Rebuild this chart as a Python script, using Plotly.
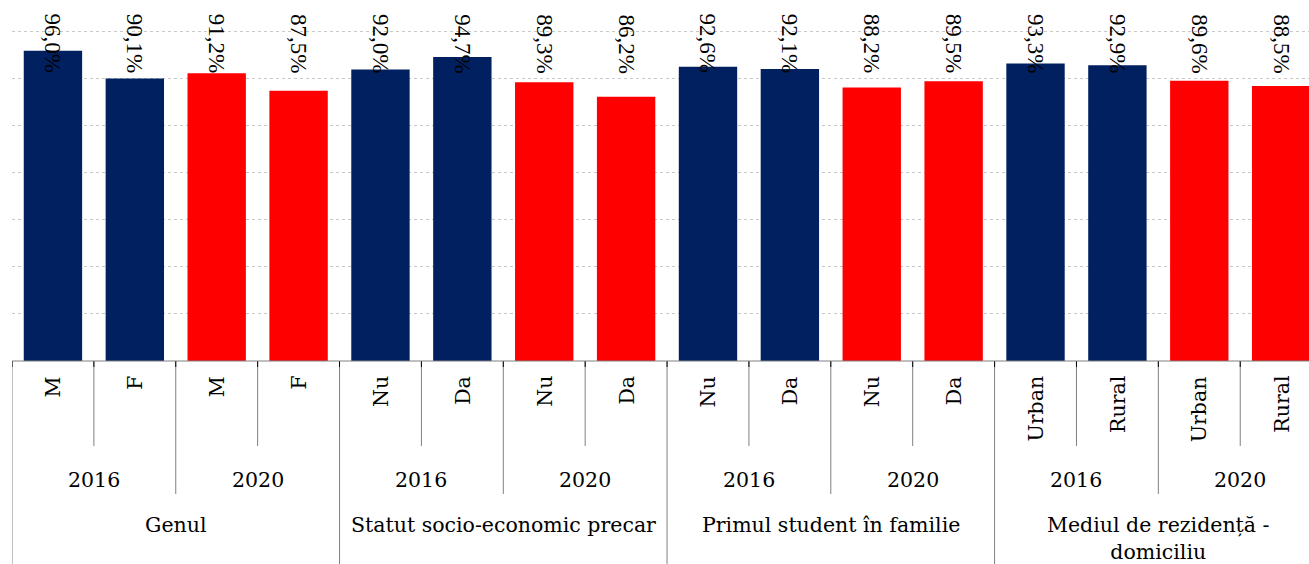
import plotly.graph_objects as go

# ---- data ----
groups = ["Genul", "Statut socio-economic precar", "Primul student în familie",
          "Mediul de rezidență -<br>domiciliu"]
years = ["2016", "2020"]
subcats = [["M", "F"], ["Nu", "Da"], ["Nu", "Da"], ["Urban", "Rural"]]
values = [96.0, 90.1, 91.2, 87.5,
          92.0, 94.7, 89.3, 86.2,
          92.6, 92.1, 88.2, 89.5,
          93.3, 92.9, 89.6, 88.5]
year_colors = {"2016": "#002060", "2020": "#FF0000"}

# ---- layout constants (pixels) ----
W, H = 1309, 564
ML, MT = 12, 0
PLOT_BOTTOM = 361
MB = H - PLOT_BOTTOM
PH = PLOT_BOTTOM - MT


def py(px):
    """pixel y -> paper y"""
    return (PLOT_BOTTOM - px) / PH


labels, colors, xs = [], [], []
i = 0
for g, subs in zip(groups, subcats):
    for y in years:
        for s in subs:
            labels.append(s)
            colors.append(year_colors[y])
            xs.append(i)
            i += 1

fig = go.Figure()
fig.add_trace(go.Bar(
    x=xs, y=values, width=0.713,
    marker=dict(color=colors, line=dict(width=0)),
    hoverinfo="skip",
))

annotations = []
shapes = []
LINE = "#808080"
FONT_CAT = dict(family="DejaVu Serif", size=20.5, color="#000000")

# value labels
for x, v in zip(xs, values):
    annotations.append(dict(
        x=x, y=py(43.5), xref="x", yref="paper",
        text=f"{v:.1f}%".replace(".", ","), textangle=90, showarrow=False,
        font=dict(family="Liberation Serif, Times New Roman, serif", size=23,
                  color="#000000"),
        xanchor="center", yanchor="middle",
    ))

# level 1 labels
for x, lab in zip(xs, labels):
    annotations.append(dict(
        x=x, y=py(374), xref="x", yref="paper", text=lab, textangle=-90,
        showarrow=False, font=FONT_CAT, xanchor="center", yanchor="top",
    ))

# level 2 labels and level 3
n = 0
for g, subs in zip(groups, subcats):
    gstart = n
    for y in years:
        k = len(subs)
        annotations.append(dict(
            x=n + (k - 1) / 2, y=py(480), xref="x", yref="paper", text=y,
            showarrow=False, font=FONT_CAT, xanchor="center", yanchor="middle",
        ))
        n += k
    annotations.append(dict(
        x=(gstart + n - 1) / 2, y=py(511), xref="x", yref="paper", text=g,
        showarrow=False, font=FONT_CAT, xanchor="center", yanchor="top",
    ))

# divider lines
for b in range(len(values) + 1):
    xb = b - 0.5
    if b % 4 == 0:
        bottom = H
    elif b % 2 == 0:
        bottom = 494
    else:
        bottom = 446
    shapes.append(dict(type="line", xref="x", yref="paper", x0=xb, x1=xb,
                       y0=py(PLOT_BOTTOM), y1=py(bottom),
                       line=dict(color=LINE, width=1)))
    shapes.append(dict(type="line", xref="x", yref="paper", x0=xb, x1=xb,
                       y0=py(PLOT_BOTTOM), y1=py(PLOT_BOTTOM + 6),
                       line=dict(color="#000000", width=1)))
shapes.append(dict(type="line", xref="paper", yref="paper", x0=0, x1=1.05,
                   y0=0, y1=0, line=dict(color=LINE, width=1)))

fig.update_layout(
    width=W, height=H,
    margin=dict(l=ML, r=0, t=MT, b=MB, pad=0),
    paper_bgcolor="white", plot_bgcolor="white",
    showlegend=False,
    xaxis=dict(range=[-0.5, 15.34], showticklabels=False, showgrid=False,
               zeroline=False, showline=False, ticks=""),
    yaxis=dict(range=[30, 106.8], tick0=30, dtick=10, showticklabels=False,
               showgrid=True, gridcolor="#c8c8c8", griddash="dot", gridwidth=1,
               zeroline=False, showline=False, ticks=""),
    annotations=annotations,
    shapes=shapes,
)

fig.write_html("out.html", config={"displayModeBar": False})

# remove default page margin so the figure sits at the window origin
with open("out.html", encoding="utf-8") as f:
    html = f.read()
html = html.replace("<body>", '<body style="margin:0;overflow:hidden">', 1)
with open("out.html", "w", encoding="utf-8") as f:
    f.write(html)
